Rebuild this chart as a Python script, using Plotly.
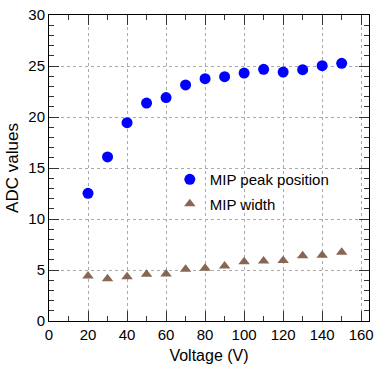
import plotly.graph_objects as go

# Bias voltage scan
voltage = [20, 30, 40, 50, 60, 70, 80, 90, 100, 110, 120, 130, 140, 150]
mip_peak = [12.52, 16.08, 19.44, 21.37, 21.9, 23.14, 23.76, 23.95, 24.31, 24.67, 24.41, 24.64, 25.03, 25.26]
mip_width = [4.41, 4.15, 4.35, 4.58, 4.6, 5.07, 5.16, 5.39, 5.82, 5.88, 5.92, 6.4, 6.44, 6.73]

fig = go.Figure()
fig.add_trace(go.Scatter(
    x=voltage, y=mip_peak, mode='markers', name='MIP peak position', legendgroup='a',
    marker=dict(symbol='circle', size=11, color='#0000ff'),
))
fig.add_trace(go.Scatter(
    x=voltage, y=mip_width, mode='markers', name='MIP width', legendgroup='b',
    marker=dict(symbol='triangle-up', size=10, color='#886655'),
))

axis_common = dict(
    showline=True, linecolor='black', linewidth=1, mirror='allticks',
    ticks='inside', ticklen=10, tickcolor='#333333',
    showgrid=True, gridcolor='#aaaaaa', griddash='dot', gridwidth=1,
    zeroline=False, tickfont=dict(size=15, color='black'), automargin=False,
)

fig.update_xaxes(
    range=[0, 164], dtick=20, tick0=0,
    title=dict(text='Voltage (V)', font=dict(size=16, color='black'), standoff=7),
    minor=dict(dtick=10, ticks='inside', ticklen=5, tickcolor='#333333', showgrid=False),
    **axis_common,
)
fig.update_yaxes(
    range=[0, 30], dtick=5, tick0=0,
    title=dict(text='ADC values', font=dict(size=17, color='black'), standoff=5),
    minor=dict(dtick=1, ticks='inside', ticklen=5, tickcolor='#333333', showgrid=False),
    **axis_common,
)

fig.update_layout(
    width=381, height=369,
    margin=dict(l=49, r=12, t=15, b=48),
    plot_bgcolor='white', paper_bgcolor='white',
    font=dict(family='Liberation Sans, Arial, sans-serif', color='black'),
    legend=dict(
        x=0.3775, y=0.516, xanchor='left', yanchor='top',
        bgcolor='rgba(0,0,0,0)', font=dict(size=15), tracegroupgap=2,
    ),
)

# drop the default page margin so the figure sits at the window's corner
fig.write_html("out.html", config={'displayModeBar': False},
               post_script="document.body.style.margin='0';")
